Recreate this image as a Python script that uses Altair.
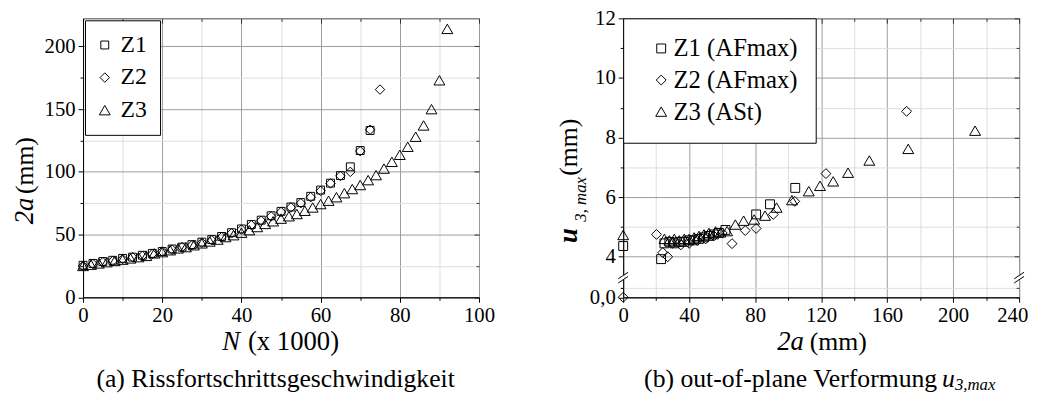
import altair as alt
import pandas as pd

# ---------------- panel (a): crack length 2a over load cycles N ----------------
z1_N = [0, 2.5, 5, 7.5, 10, 12.5, 15, 17.5, 20, 22.5, 25, 27.5, 30, 32.5, 35, 37.5,
        40, 42.5, 45, 47.5, 50, 52.5, 55, 57.5, 60, 62.5, 65, 67.5, 70, 72.5]
z1_a = [25.5, 27, 28.5, 29.5, 31, 32, 33.5, 35, 36.5, 38.5, 40, 42, 44, 46, 48.5, 51.5,
        54.5, 58, 61.5, 65, 68.5, 72, 75.5, 80.5, 85.5, 91, 97, 104, 117, 133]
z2_N = [0, 2.5, 5, 7.5, 10, 12.5, 15, 17.5, 20, 22.5, 25, 27.5, 30, 32.5, 35, 37.5,
        40, 42.5, 45, 47.5, 50, 52.5, 55, 57.5, 60, 62.5, 65, 67.5, 70, 72.5, 75]
z2_a = [25, 26.5, 28, 29, 30.5, 32, 33, 34.5, 36.5, 38, 40, 41.5, 43.5, 45.5, 48, 51,
        54, 57.5, 61, 64.5, 68, 71.6, 75, 79.8, 84.8, 90.8, 96.8, 100, 116.5, 133.6, 165.6]
z3_N = [0, 2, 4, 6, 8, 10, 12, 14, 16, 18, 20, 22, 24, 26, 28, 30, 32, 34, 36, 38, 40,
        42, 44, 46, 48, 50, 52, 54, 56, 58, 60, 62, 64, 66, 68, 70, 72, 74, 76, 78, 80,
        82, 84, 86, 88, 90, 92]
z3_a = [25, 26, 27, 28, 29, 30, 31, 32, 33, 35, 36, 37.5, 39, 40, 41.5, 43, 44.5, 46,
        48, 49.5, 51.5, 53.5, 56, 58.5, 60.6, 62.7, 64.6, 66.4, 69, 71.6, 74.3, 77, 79.8,
        83, 86.3, 89.5, 93.4, 97.4, 102.6, 108, 113.6, 120, 128, 137, 150, 173, 214]

# ---------------- panel (b): out-of-plane deformation u3,max over 2a ----------------
b1_2a = [0, 23, 25, 28, 31, 34, 37, 40, 43, 46, 49, 52, 55, 58, 62, 80.6, 89, 104.3]
b1_u = [4.36, 3.92, 4.45, 4.5, 4.45, 4.5, 4.5, 4.55, 4.55, 4.6, 4.65, 4.7, 4.75, 4.8,
        4.9, 5.42, 5.76, 6.31]
b2_2a = [0, 20.2, 24, 27, 30, 35, 40, 45, 50, 55, 60, 66, 74, 80.6, 91, 104, 122.9, 171.8]
b2_u = [0.0, 4.75, 4.14, 4.0, 4.45, 4.4, 4.45, 4.55, 4.6, 4.7, 4.8, 4.44, 4.88, 4.95,
        5.42, 5.86, 6.79, 8.88]
b3_2a = [0, 25, 28, 31, 34, 37, 40, 43, 46, 49, 52, 56, 59, 63, 68, 73, 79.4, 86, 93,
         102.3, 112.5, 119.3, 127.3, 136.3, 149.2, 172.8, 213.3]
b3_u = [4.73, 4.6, 4.55, 4.6, 4.55, 4.6, 4.6, 4.65, 4.7, 4.75, 4.8, 4.85, 4.82, 4.86,
        5.08, 5.21, 5.25, 5.38, 5.65, 5.9, 6.2, 6.38, 6.53, 6.82, 7.23, 7.62, 8.23]

labels_a = ["Z1", "Z2", "Z3"]
labels_b = ["Z1 (AFmax)", "Z2 (AFmax)", "Z3 (ASt)"]
x_ticks_a = [0, 10, 20, 30, 40, 50, 60, 70, 80, 90, 100]
y_ticks_a = [0, 25, 50, 75, 100, 125, 150, 175, 200]
x_ticks_b = [0, 20, 40, 60, 80, 100, 120, 140, 160, 180, 200, 220, 240]
y_ticks_b_major = [4, 5, 6, 7, 8, 9, 10, 11, 12]

# ---------------- styling / layout constants ----------------
FONT = "Liberation Serif"
W, H = 401, 282.5
MAJOR, MINOR = "#9c9c9c", "#dddddd"
BREAK_POS = 2.64      # display position of "0,0" on the broken axis
BREAK_MINOR = 2.94
y_ticks_b = [BREAK_POS, BREAK_MINOR] + y_ticks_b_major


def cond(test, a, b):
    return {"condition": {"test": test, "value": a}, "value": b}


def main_axis(values, major_test, label_expr, orient, extra=None):
    kw = dict(orient=orient, values=values, labelExpr=label_expr, grid=True,
              gridColor=cond(major_test, MAJOR, MINOR),
              tickSize=cond(major_test, 5, 3), tickColor="black", domainColor="black",
              labelFont=FONT, labelFontSize=21, labelColor="black", labelPadding=3,
              labelFlush=False, labelOverlap=False, labelBound=False, title=None)
    if extra:
        kw.update(extra)
    return alt.Axis(**kw)


def ghost_axis(values, major_test, orient, offset):
    return alt.Axis(orient=orient, offset=offset, values=values, labels=False,
                    domain=False, grid=False, tickSize=cond(major_test, 5, 3),
                    tickColor="#333333", title=None)


one = pd.DataFrame({"k": [0]})


def txt(text, x, y, size=26, style="normal", weight="normal", angle=0,
        align="center"):
    return alt.Chart(one).mark_text(
        text=text, font=FONT, fontSize=size, fontStyle=style, fontWeight=weight,
        angle=angle, align=align, baseline="middle", color="black"
    ).encode(x=alt.value(x), y=alt.value(y))


# ---------------- panel (a) ----------------
df_a = pd.concat([
    pd.DataFrame({"series": labels_a[0], "N": z1_N, "a": z1_a}),
    pd.DataFrame({"series": labels_a[1], "N": z2_N, "a": z2_a}),
    pd.DataFrame({"series": labels_a[2], "N": z3_N, "a": z3_a}),
])
sx_a = alt.Scale(domain=[0, 100], nice=False, zero=False)
sy_a = alt.Scale(domain=[0, 222.4], nice=False, zero=False)
leg_a = alt.Legend(title=None, orient="top-left", offset=2, padding=13,
                   strokeColor="black", fillColor="white", labelFont=FONT,
                   labelFontSize=24, labelColor="black", rowPadding=9, labelOffset=4,
                   symbolOffset=-5,
                   symbolStrokeColor="black", symbolStrokeWidth=1)

pts_a = alt.Chart(df_a).mark_point(filled=False, color="black", strokeWidth=1,
                                   opacity=1).encode(
    x=alt.X("N:Q", scale=sx_a,
            axis=main_axis(x_ticks_a, "datum.value % 20 == 0",
                           "datum.value % 20 == 0 ? datum.label : ''", "bottom")),
    y=alt.Y("a:Q", scale=sy_a,
            axis=main_axis(y_ticks_a, "datum.value % 50 == 0",
                           "datum.value % 50 == 0 ? datum.label : ''", "left")),
    shape=alt.Shape("series:N", scale=alt.Scale(domain=labels_a,
                    range=["square", "diamond", "triangle-up"]), legend=leg_a),
    size=alt.Size("series:N", scale=alt.Scale(domain=labels_a, range=[64, 121, 140]),
                  legend=leg_a),
)
ghost_a = alt.Chart(df_a).mark_point(opacity=0).encode(
    x=alt.X("N:Q", scale=sx_a, axis=ghost_axis(x_ticks_a, "datum.value % 20 == 0",
                                               "bottom", -H)),
    y=alt.Y("a:Q", scale=sy_a, axis=ghost_axis(y_ticks_a, "datum.value % 50 == 0",
                                               "left", -W)),
)
texts_a = [
    txt("2a", -59, 208.5, size=27, style="italic", angle=270, align="left"),
    txt("(mm)", -59, 178, angle=270, align="left"),
    txt("N", 159, 328, size=27, style="italic", align="right"),
    txt("(x 1000)", 167, 328, size=27, align="left"),
    txt("(a) Rissfortschrittsgeschwindigkeit", 195, 365),
]
panel_a = alt.layer(pts_a, ghost_a, *texts_a).resolve_axis(
    x="independent", y="independent").properties(width=W, height=H)

# ---------------- panel (b) ----------------
df_b = pd.concat([
    pd.DataFrame({"series": labels_b[0], "x": b1_2a, "u": b1_u}),
    pd.DataFrame({"series": labels_b[1], "x": b2_2a, "u": b2_u}),
    pd.DataFrame({"series": labels_b[2], "x": b3_2a, "u": b3_u}),
])
sx_b = alt.Scale(domain=[0, 240], nice=False, zero=False)
sy_b = alt.Scale(domain=[BREAK_POS, 12], nice=False, zero=False)
leg_b = alt.Legend(title=None, orient="top-left", offset=0, padding=18,
                   strokeColor="black", fillColor="white", labelFont=FONT,
                   labelFontSize=25, labelColor="black", rowPadding=6, labelOffset=0,
                   symbolOffset=8, symbolStrokeColor="black", symbolStrokeWidth=1)
ymaj_b = "datum.value >= 4 && datum.value % 2 == 0"
base_b = alt.Chart(df_b).transform_calculate(
    ud=f"datum.u == 0 ? {BREAK_POS} : datum.u")

pts_b = base_b.mark_point(filled=False, color="black", strokeWidth=1, opacity=1).encode(
    x=alt.X("x:Q", scale=sx_b,
            axis=main_axis(x_ticks_b, "datum.value % 40 == 0",
                           "datum.value % 40 == 0 ? datum.label : ''", "bottom",
                           extra=dict(labelOffset=cond("datum.value == 240", -7, 0)))),
    y=alt.Y("ud:Q", scale=sy_b,
            axis=main_axis(y_ticks_b, ymaj_b + " || datum.value < 2.8",
                           "datum.value < 2.8 ? '0,0' : (datum.value % 2 == 0 ? "
                           "format(datum.value, 'd') : '')", "left")),
    shape=alt.Shape("series:N", scale=alt.Scale(domain=labels_b,
                    range=["square", "diamond", "triangle-up"]), legend=leg_b),
    size=alt.Size("series:N", scale=alt.Scale(domain=labels_b, range=[81, 121, 144]),
                  legend=leg_b),
)
ghost_b = base_b.mark_point(opacity=0).encode(
    x=alt.X("x:Q", scale=sx_b, axis=ghost_axis(x_ticks_b, "datum.value % 40 == 0",
                                               "bottom", -H)),
    y=alt.Y("ud:Q", scale=sy_b, axis=ghost_axis(y_ticks_b, ymaj_b, "left", -W)),
)


def break_marks(x0):
    gap = alt.Chart(one).mark_rule(color="white", strokeWidth=3).encode(
        x=alt.XDatum(x0, axis=None), y=alt.YDatum(3.22, axis=None), y2=alt.datum(3.39))
    s1 = alt.Chart(one).mark_rule(color="black", strokeWidth=1).encode(
        x=alt.XDatum(x0 - 3, axis=None), x2=alt.datum(x0 + 3),
        y=alt.YDatum(3.12, axis=None), y2=alt.datum(3.34))
    s2 = alt.Chart(one).mark_rule(color="black", strokeWidth=1).encode(
        x=alt.XDatum(x0 - 3, axis=None), x2=alt.datum(x0 + 3),
        y=alt.YDatum(3.26, axis=None), y2=alt.datum(3.48))
    return [gap, s1, s2]


texts_b = [
    txt("u", -55, 227.5, size=27, style="italic", weight="bold", angle=270, align="left"),
    txt("3, max", -43, 206, size=17, style="italic", angle=270, align="left"),
    txt("(mm)", -55, 159.5, angle=270, align="left"),
    txt("2a", 183, 328, size=27, style="italic", align="right"),
    txt("(mm)", 189, 328, align="left"),
    txt("(b) out-of-plane Verformung", 318, 365, align="right"),
    txt("u", 323, 365, style="italic", align="left"),
    txt("3,max", 336, 371, size=17, style="italic", align="left"),
]
panel_b = alt.layer(pts_b, ghost_b, *break_marks(0), *break_marks(240), *texts_b
                    ).resolve_axis(x="independent", y="independent"
                                   ).properties(width=W, height=H)

chart = alt.hconcat(panel_a, panel_b, spacing=59).resolve_scale(
    shape="independent", size="independent"
).configure_view(stroke="#444444", strokeWidth=1).properties(
    padding={"left": 2, "right": 0, "top": -4, "bottom": 0},
    background="white",
)

chart.save("out.html", embed_options={"renderer": "svg", "actions": False})
